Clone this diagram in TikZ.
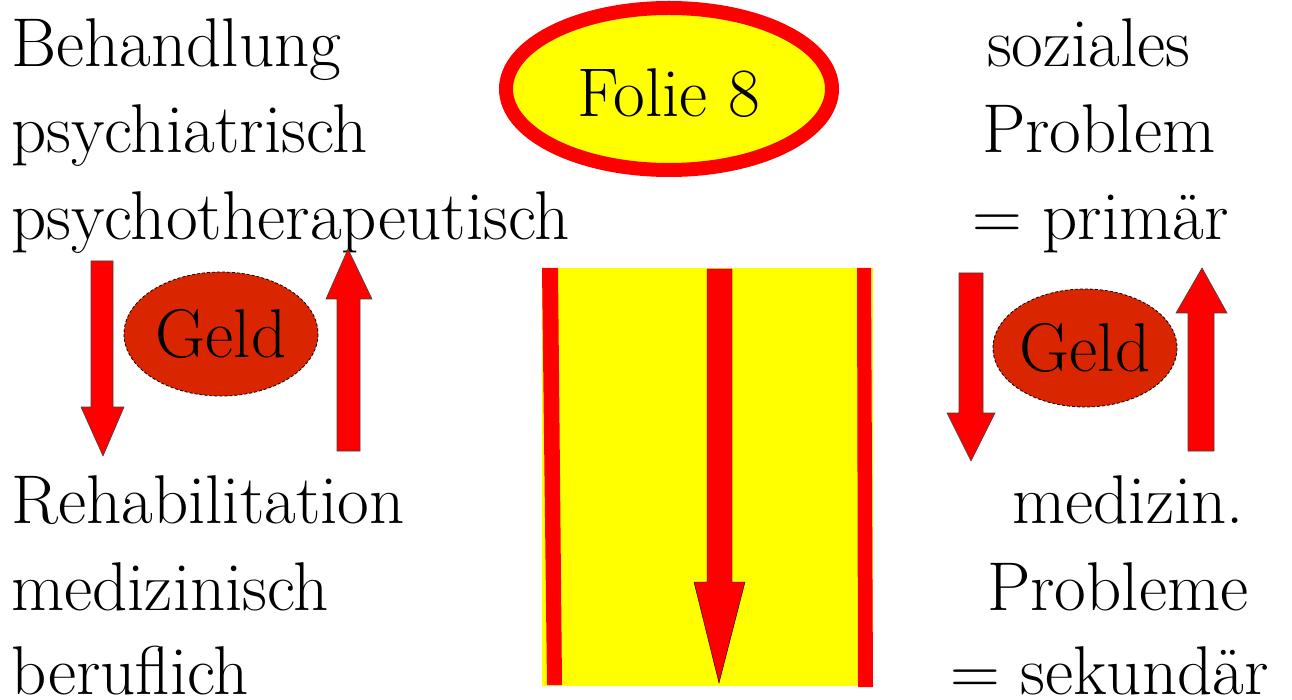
\documentclass[tikz,border=0pt]{standalone}
\usepackage{fontspec}
\definecolor{signalred}{RGB}{255,0,0}
\definecolor{bandyellow}{RGB}{255,255,0}
\definecolor{moneyred}{RGB}{217,38,0}
\tikzset{
  bigfont/.style={font=\rmfamily\fontsize{69}{80}\selectfont},
  bigtext/.style={bigfont, anchor=base west, inner sep=0pt},
  label/.style={bigfont, inner sep=0pt},
  moneyedge/.style={fill=moneyred, draw=black, densely dashed, line width=0.8pt},
  blockarrow/.style={fill=signalred, draw=black!75, line width=0.6pt, line join=miter},
  plainarrow/.style={fill=signalred},
}
\begin{document}
\begin{tikzpicture}[x=1pt, y=-1pt]
  \useasboundingbox (0,0) rectangle (1292,700);

  % title oval
  \draw[signalred, line width=14pt, fill=bandyellow] (669,89) ellipse [x radius=163, y radius=81];
  \node[label] (title) at (669,93) {Folie 8};

  % left column
  \node[bigtext] (beh)   at (11,67)  {Behandlung};
  \node[bigtext] (psy)   at (11,153) {psychiatrisch};
  \node[bigtext] (psyth) at (11,240) {psychotherapeutisch};
  \node[bigtext] (reha)  at (11,523) {Rehabilitation};
  \node[bigtext] (med)   at (11,610) {medizinisch};
  \node[bigtext] (ber)   at (11,694) {beruflich};

  % right column
  \node[bigtext] (soz)   at (987,67)  {soziales};
  \node[bigtext] (prob)  at (982,153) {Problem};
  \node[bigtext] (prim)  at (972,240) {= primär};
  \node[bigtext] (medz)  at (1012,523) {medizin.};
  \node[bigtext] (probs) at (987,610) {Probleme};
  \node[bigtext] (sek)   at (950,694) {= sekundär};

  % money ovals
  \draw[moneyedge] (221,334) ellipse [x radius=97, y radius=62];
  \node[label] (geldL) at (221,334) {Geld};
  \draw[moneyedge] (1085,348) ellipse [x radius=92, y radius=59];
  \node[label] (geldR) at (1085,348) {Geld};

  % left block arrows
  \draw[blockarrow] (91,261) -- (113,261) -- (113,407) -- (124,407) -- (103,456)
        -- (81,407) -- (91,407) -- cycle;
  \draw[blockarrow] (337,451) -- (360,451) -- (360,299) -- (372,299) -- (348,249)
        -- (326,299) -- (337,299) -- cycle;

  % right block arrows
  \draw[blockarrow] (959,273) -- (983,273) -- (983,413) -- (995,413) -- (971,461)
        -- (947,413) -- (959,413) -- cycle;
  \draw[blockarrow] (1188,451) -- (1214,451) -- (1214,313) -- (1227,313) -- (1202,268)
        -- (1176,313) -- (1188,313) -- cycle;

  % central yellow band with red edges and downward arrow
  \fill[bandyellow] (542,268) rectangle (873,686);
  \fill[signalred] (542,268) -- (558,268) -- (562,685) -- (547,685) -- cycle;
  \fill[signalred] (857,268) -- (871,268) -- (873,687) -- (858,687) -- cycle;
  \draw[plainarrow] (707,269) -- (732,269) -- (732,582) -- (745,582) -- (719,683)
        -- (694,582) -- (707,582) -- cycle;
\end{tikzpicture}
\end{document}
